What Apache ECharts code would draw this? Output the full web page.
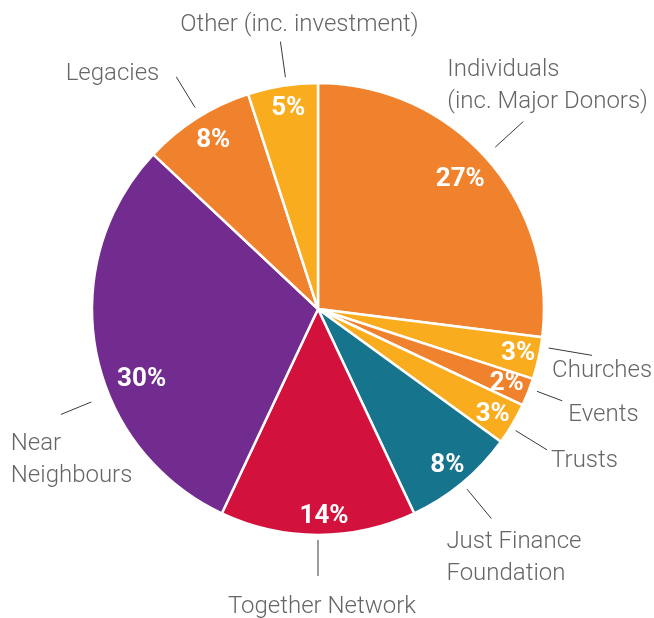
<!DOCTYPE html>
<html><head><meta charset="utf-8">
<script src="https://cdn.jsdelivr.net/npm/echarts@6/dist/echarts.min.js"></script>
<style>html,body{margin:0;padding:0;background:#fff}#c{width:654px;height:618px}</style>
</head><body><div id="c"></div>
<script>
// ---- data ----
var categories = ['Individuals\n(inc. Major Donors)', 'Churches', 'Events', 'Trusts', 'Just Finance\nFoundation', 'Together Network', 'Near\nNeighbours', 'Legacies', 'Other (inc. investment)'];
var values = [27, 3, 2, 3, 8, 14, 30, 8, 5];
var percentLabels = ['27%', '3%', '2%', '3%', '8%', '14%', '30%', '8%', '5%'];

// ---- styles ----
var colors = ['#F0822D', '#F9AD1E', '#F0822D', '#F9AD1E', '#17748D', '#D2123D', '#722B8E', '#F0822D', '#F9AD1E'];
// leader line tweak: [angle delta (deg, clockwise), start radial shift, end radial shift]
var lineTweak = [[-1, 6, 6], [-3, 0, 6], [-1, 0, -11], [1, -2, -3], [0, 0, 0], [0, -3, -5], [-11.5, 11, 6], [1, 2, 0], [1, 0, -2]];
// label placement relative to the end of each leader line
var outerPlace = [
  {align: 'left', va: 'bottom', dx: -76, dy: -4},
  {align: 'left', va: 'middle', dx: -40, dy: 16},
  {align: 'left', va: 'middle', dx: 6, dy: 14},
  {align: 'left', va: 'middle', dx: 4, dy: 11},
  {align: 'left', va: 'top', dx: -45, dy: 7},
  {align: 'center', va: 'middle', dx: 4, dy: 31},
  {align: 'left', va: 'top', dx: -50, dy: 14},
  {align: 'right', va: 'middle', dx: -17, dy: -3},
  {align: 'center', va: 'middle', dx: 19, dy: -17}
];
var innerShift = [[-10, 5], [2, 0], [0, 0], [0, 2], [0, 0], [6, 4], [23, 32], [4, 3], [2, 0]];

var center = [318, 309];
var R = 226;

var chart = echarts.init(document.getElementById('c'), null, {renderer: 'canvas'});

function mk(fn) {
  return categories.map(function (c, i) { return fn(c, i); });
}

function tweakPoint(pt, delta, shift) {
  var dx = pt[0] - center[0], dy = pt[1] - center[1];
  var r = Math.sqrt(dx * dx + dy * dy) + shift;
  var a = Math.atan2(dy, dx) + delta * Math.PI / 180;
  return [center[0] + r * Math.cos(a), center[1] + r * Math.sin(a)];
}

chart.setOption({
  animation: false,
  series: [
    {
      type: 'pie', center: center, radius: [0, R], startAngle: 90, clockwise: true,
      silent: true, avoidLabelOverlap: false,
      label: {show: false}, labelLine: {show: false},
      itemStyle: {borderColor: '#ffffff', borderWidth: 2.5},
      data: mk(function (c, i) { return {name: c, value: values[i], itemStyle: {color: colors[i]}}; })
    },
    {
      type: 'pie', center: center, radius: [R - 52, R], startAngle: 90, clockwise: true,
      silent: true, avoidLabelOverlap: false,
      itemStyle: {color: 'rgba(0,0,0,0)', borderWidth: 0},
      label: {show: true, position: 'inside', color: '#ffffff', fontFamily: 'Roboto', fontWeight: 'bold', fontSize: 26,
        formatter: function (p) { return percentLabels[p.dataIndex]; }},
      labelLine: {show: false},
      labelLayout: function (p) {
        var s = innerShift[p.dataIndex];
        return {dx: s[0], dy: s[1]};
      },
      data: mk(function (c, i) { return {name: c, value: values[i]}; })
    },
    {
      type: 'pie', center: center, radius: [R, R + 8], startAngle: 90, clockwise: true,
      silent: true, avoidLabelOverlap: false,
      itemStyle: {color: 'rgba(0,0,0,0)', borderWidth: 0},
      label: {show: true, position: 'outside', color: '#666666', fontFamily: 'Roboto', fontWeight: 300, fontSize: 24, lineHeight: 32,
        formatter: '{b}'},
      labelLine: {show: true, length: 38, length2: 0, lineStyle: {color: '#3a3a3a', width: 1}},
      labelLayout: function (p) {
        var pts = p.labelLinePoints;
        var t = lineTweak[p.dataIndex];
        var start = tweakPoint(pts[0], t[0], t[1]);
        var end = tweakPoint(pts[pts.length - 1], t[0], t[2]);
        var o = outerPlace[p.dataIndex];
        return {x: end[0] + o.dx, y: end[1] + o.dy, align: o.align, verticalAlign: o.va, labelLinePoints: [start, end, end]};
      },
      data: mk(function (c, i) { return {name: c, value: values[i]}; })
    }
  ]
});
</script>
</body></html>
